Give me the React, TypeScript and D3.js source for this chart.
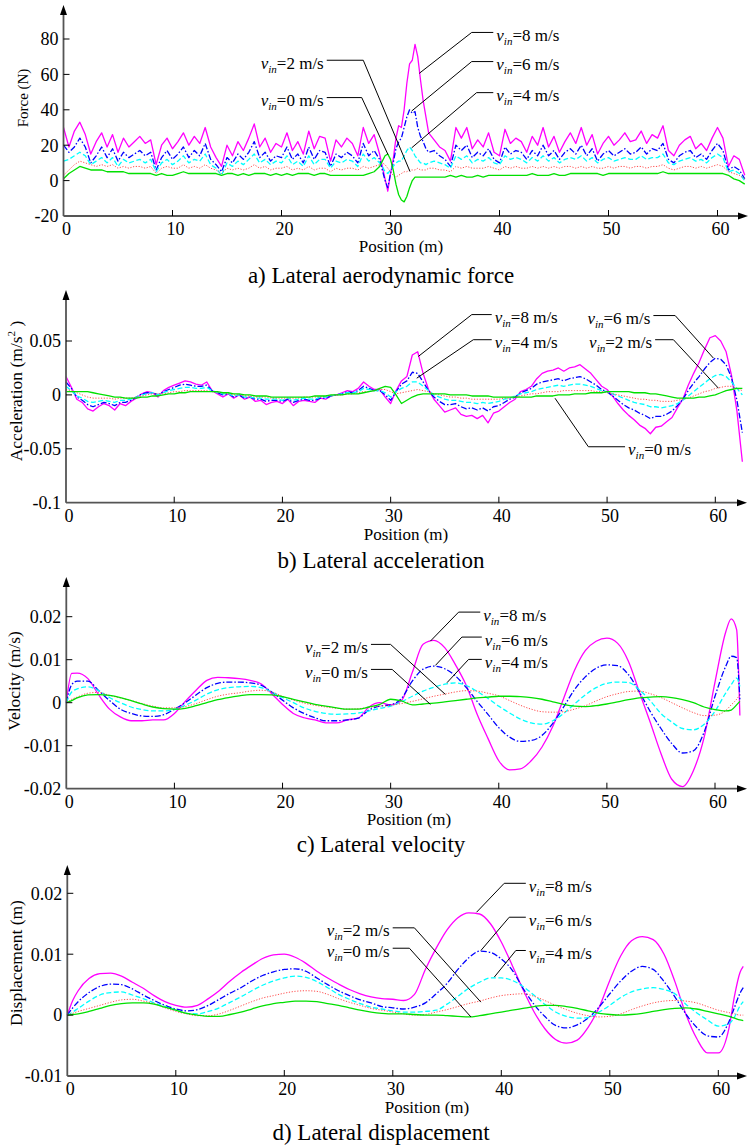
import React from "react";
import * as d3 from "d3";

// ---------------- DATA ----------------
const speeds = ["8", "6", "4", "2", "0"];

// Panel a: lateral aerodynamic force (N)
const posA = [0,0.5,1,1.5,2,2.5,3,3.5,4,4.5,5,5.5,6,6.5,7,7.5,8,8.5,9,9.5,10,10.5,11,11.5,12,12.5,13,13.5,14,14.5,15,15.5,16,16.5,17,17.5,18,18.5,19,19.5,20,20.5,21,21.5,22,22.5,23,23.5,24,24.5,25,25.5,26,26.5,27,27.5,28,28.5,29,
  29.25,29.5,29.75,30,30.25,30.5,30.75,31,31.25,31.5,31.75,32,32.25,32.5,32.75,33,33.25,33.5,
  34,34.5,35,35.5,36,36.5,37,37.5,38,38.5,39,39.5,40,40.5,41,41.5,42,42.5,43,43.5,44,44.5,45,45.5,46,46.5,47,47.5,48,48.5,49,49.5,50,50.5,51,51.5,52,52.5,53,53.5,54,54.5,55,55.5,56,56.5,57,57.5,58,58.5,59,59.5,60,60.5,61,61.5,62,62.5];
const forceV8 = [30,19,28,33,26,15,22,27,19,26, 16,24,19,22,25,21,23,9,20,24, 18,22,27,20,25,21,30,19,13,8, 20,14,22,17,24,32,19,24,16,21, 19,27,17,22,15,28,18,25,24,11, 23,19,24,21,14,30,21,26,15,
  8,1,-6,4,12,24,31,30,40,55,66,68,77,70,57,45,36,27,
  23,19,17,11,30,24,30,18,23,19, 27,16,14,29,21,24,22,16,25,20, 30,19,25,16,22,27,21,30,20,26, 15,21,25,20,23,27,22,23,28,21, 26,24,31,17,14,20,23,25,18,21, 17,24,30,24,8,14,12,3];
const forceV6 = [20,16,19,24,19,10,14,19,13,18, 11,16,13,15,17,14,16,6,13,17, 12,15,19,13,17,14,21,12,9,5, 13,10,15,12,16,22,13,16,11,14, 13,19,12,15,10,19,12,17,16,8, 15,13,16,14,10,21,14,17,12,
  6,0,-4,4,10,18,22,24,30,36,40,38,39,30,25,22,18,16,
  17,14,12,8,20,17,20,13,16,14, 18,12,10,19,15,17,16,12,17,14, 20,14,17,12,16,18,15,20,14,18, 11,15,17,14,16,18,15,16,19,15, 18,17,21,12,10,14,16,17,13,15, 12,17,21,17,6,8,6,1];
const forceV4 = [11,12,14,16,14,9,11,13,10,13, 8,12,10,11,12,10,12,5,10,12, 9,11,14,10,12,11,15,9,7,3, 10,8,11,9,12,15,10,12,9,11, 10,14,9,11,8,14,9,12,12,7, 11,10,12,11,8,15,11,13,10,
  8,5,4,6,8,10,11,11,14,17,19,17,14,12,10,10,9,10,
  11,10,9,7,14,12,14,10,12,11, 13,10,9,14,12,13,12,10,13,11, 14,11,13,10,12,13,12,14,11,13, 10,12,13,11,12,13,12,12,14,12, 13,13,15,10,9,11,12,13,11,12, 10,13,15,13,5,6,4,0];
const forceV2 = [3,6,9,11,10,9,8,9,8,9, 7,8,7,8,8,7,8,4,7,8, 7,7,9,7,8,7,9,7,6,4, 7,6,7,6,7,9,7,8,6,7, 7,8,6,7,6,8,6,7,7,5, 7,6,7,7,6,8,7,8,9,
  10,9,7,5,3,2,3,4,5,5,6,6,6,7,6,6,6,7,
  7,6,6,5,8,7,8,7,7,7, 8,7,6,8,7,8,7,7,8,7, 8,7,8,7,8,8,7,8,7,8, 7,7,8,7,8,8,7,8,8,7, 8,8,9,7,6,7,8,8,7,8, 7,8,9,8,5,4,3,1];
const forceV0 = [1,4,6,8,7,6,6,6,5,5, 5,5,4,4,4,4,4,3,4,3, 3,4,5,4,4,4,4,4,4,3, 4,4,3,4,3,4,4,4,3,4, 3,4,3,4,4,4,3,4,4,3, 3,3,3,3,3,3,4,5,8,
  11,14,15,12,6,-2,-8,-11,-12,-9,-4,0,2,2,2,2,2,2,
  2,2,2,3,2,3,2,2,3,2, 3,3,3,3,3,3,3,3,4,3, 3,3,4,3,3,4,4,4,4,4, 4,3,4,4,4,4,4,4,4,4, 4,4,5,4,4,4,4,4,4,4, 4,4,4,4,3,1,0,-2];

// Panel b: lateral acceleration (m/s^2)
const posB = [0,0.5,1,1.5,2,2.5,3,3.5,4,4.5,5,5.5,6,6.5,7,7.5,8,8.5,9,9.5,10,10.5,11,11.5,12,12.5,13,13.5,14,14.5,15,15.5,16,16.5,17,17.5,18,18.5,19,19.5,20,20.5,21,21.5,22,22.5,23,23.5,24,24.5,25,25.5,26,26.5,27,27.5,28,28.5,29,29.5,30,30.5,31,31.5,32,32.5,33,33.5,34,34.5,35,35.5,36,36.5,37,37.5,38,38.5,39,39.5,40,40.5,41,41.5,42,42.5,43,43.5,44,44.5,45,45.5,46,46.5,47,47.5,48,48.5,49,49.5,50,50.5,51,51.5,52,52.5,53,53.5,54,54.5,55,55.5,56,56.5,57,57.5,58,58.5,59,59.5,60,60.5,61,61.5,62,62.5];
const accV8 = [0.017,0.007,-0.004,-0.007,-0.013,-0.015,-0.011,-0.008,-0.010,-0.014, -0.008,-0.010,-0.006,-0.003,0.001,0.003,0.002,-0.002,0.004,0.007, 0.009,0.011,0.013,0.012,0.010,0.009,0.012,0.004,0.001,-0.002, 0.001,-0.003,0.000,-0.004,-0.002,-0.006,-0.005,-0.009,-0.007,-0.006, -0.008,-0.004,-0.010,-0.006,-0.005,-0.006,-0.007,-0.003,-0.004,-0.001, 0.000,0.002,0.004,0.003,0.006,0.012,0.008,0.005,0.005,-0.002, -0.008,0.004,0.013,0.017,0.037,0.040,0.020,0.005,-0.004,-0.010, -0.016,-0.014,-0.012,-0.018,-0.020,-0.019,-0.022,-0.019,-0.026,-0.017, -0.015,-0.011,-0.007,-0.004,0.003,0.005,0.008,0.015,0.020,0.022, 0.023,0.025,0.022,0.025,0.026,0.028,0.024,0.020,0.014,0.008, 0.005,-0.001,-0.008,-0.014,-0.019,-0.023,-0.028,-0.031,-0.036,-0.030, -0.029,-0.025,-0.021,-0.012,-0.004,0.009,0.020,0.030,0.042,0.053, 0.055,0.050,0.040,0.018,-0.015,-0.062];
const accV6 = [0.012,0.006,-0.002,-0.005,-0.009,-0.011,-0.009,-0.007,-0.008,-0.010, -0.007,-0.007,-0.005,-0.002,0.001,0.002,0.002,0.000,0.003,0.005, 0.007,0.009,0.010,0.009,0.008,0.008,0.009,0.004,0.002,0.000, 0.001,-0.002,0.000,-0.003,-0.002,-0.004,-0.004,-0.006,-0.005,-0.005, -0.006,-0.004,-0.007,-0.005,-0.004,-0.005,-0.005,-0.003,-0.003,-0.001, 0.000,0.001,0.003,0.002,0.004,0.008,0.006,0.004,0.004,0.000, -0.005,0.003,0.010,0.013,0.021,0.020,0.012,0.004,-0.002,-0.006, -0.009,-0.009,-0.008,-0.011,-0.013,-0.012,-0.014,-0.012,-0.015,-0.011, -0.010,-0.007,-0.004,-0.002,0.002,0.004,0.006,0.010,0.012,0.013, 0.014,0.015,0.013,0.015,0.016,0.017,0.015,0.012,0.009,0.005, 0.003,-0.001,-0.005,-0.009,-0.012,-0.014,-0.017,-0.019,-0.022,-0.020, -0.020,-0.018,-0.015,-0.010,-0.004,0.004,0.011,0.017,0.024,0.030, 0.034,0.033,0.028,0.016,-0.005,-0.035];
const accV4 = [0.008,0.004,-0.001,-0.003,-0.006,-0.007,-0.006,-0.005,-0.006,-0.007, -0.005,-0.005,-0.004,-0.002,0.000,0.001,0.002,0.000,0.002,0.004, 0.005,0.006,0.007,0.007,0.006,0.006,0.007,0.004,0.002,0.001, 0.001,-0.001,0.000,-0.002,-0.002,-0.003,-0.003,-0.004,-0.004,-0.004, -0.005,-0.003,-0.005,-0.004,-0.003,-0.004,-0.004,-0.002,-0.002,-0.001, 0.000,0.001,0.002,0.002,0.003,0.006,0.005,0.004,0.004,0.002, -0.002,0.003,0.006,0.008,0.012,0.012,0.008,0.004,0.000,-0.002, -0.004,-0.005,-0.005,-0.006,-0.007,-0.007,-0.008,-0.007,-0.008,-0.007, -0.006,-0.004,-0.003,-0.001,0.001,0.002,0.003,0.005,0.006,0.007, 0.008,0.009,0.008,0.009,0.010,0.010,0.009,0.008,0.006,0.004, 0.003,0.001,-0.001,-0.003,-0.005,-0.007,-0.008,-0.009,-0.011,-0.011, -0.012,-0.011,-0.010,-0.008,-0.005,-0.001,0.003,0.007,0.011,0.015, 0.018,0.019,0.017,0.012,0.006,0.000];
const accV2 = [0.005,0.004,0.002,0.000,-0.002,-0.003,-0.003,-0.003,-0.003,-0.004, -0.003,-0.003,-0.003,-0.002,-0.001,0.000,0.001,0.001,0.001,0.002, 0.003,0.003,0.004,0.004,0.004,0.004,0.004,0.003,0.002,0.002, 0.001,0.000,0.000,-0.001,-0.001,-0.002,-0.002,-0.002,-0.003,-0.003, -0.003,-0.003,-0.003,-0.003,-0.002,-0.002,-0.002,-0.002,-0.001,-0.001, 0.000,0.000,0.001,0.001,0.002,0.003,0.003,0.004,0.005,0.005, 0.003,0.001,0.002,0.003,0.004,0.005,0.004,0.003,0.001,0.000, -0.001,-0.002,-0.002,-0.003,-0.003,-0.004,-0.004,-0.004,-0.004,-0.004, -0.004,-0.003,-0.003,-0.002,-0.001,0.000,0.001,0.001,0.002,0.003, 0.003,0.003,0.004,0.004,0.004,0.004,0.004,0.004,0.003,0.003, 0.002,0.001,0.000,-0.001,-0.002,-0.003,-0.004,-0.004,-0.005,-0.005, -0.006,-0.006,-0.006,-0.005,-0.004,-0.003,-0.001,0.001,0.003,0.004, 0.006,0.007,0.008,0.008,0.006,0.004];
const accV0 = [0.003,0.003,0.003,0.003,0.003,0.002,0.001,0.000,-0.001,-0.002, -0.002,-0.003,-0.003,-0.003,-0.002,-0.002,-0.001,-0.001,0.000,0.001, 0.001,0.002,0.002,0.003,0.003,0.003,0.003,0.003,0.003,0.002, 0.002,0.001,0.001,0.000,0.000,-0.001,-0.001,-0.001,-0.002,-0.002, -0.002,-0.002,-0.002,-0.002,-0.002,-0.002,-0.001,-0.001,-0.001,0.000, 0.000,0.000,0.001,0.001,0.001,0.002,0.003,0.004,0.006,0.008, 0.007,0.000,-0.008,-0.005,-0.002,0.000,0.001,0.001,0.001,0.001, 0.001,0.000,0.000,0.000,0.000,-0.001,-0.001,-0.001,-0.001,-0.002, -0.002,-0.002,-0.002,-0.002,-0.002,-0.002,-0.002,-0.001,-0.001,-0.001, -0.001,0.000,0.000,0.000,0.001,0.001,0.001,0.002,0.002,0.002, 0.003,0.003,0.003,0.003,0.003,0.002,0.002,0.002,0.001,0.001, 0.000,-0.001,-0.002,-0.003,-0.003,-0.003,-0.003,-0.002,-0.002,-0.001, 0.000,0.002,0.004,0.005,0.006,0.006];

// Panels c and d share positions
const posCD = [0,0.5,1,2,3,4,5,6,7,8,9,10,11,12,13,14,15,16,17,18,19,20,21,22,23,24,25,26,27,28,29,30,31,32,33,34,35,36,37,38,39,40,41,42,43,44,45,46,47,48,49,50,51,52,53,54,55,56,57,58,59,60,61,61.5,62,62.3];

// Panel c: lateral velocity (m/s)
const velV8 = [0,0.0068,0.0069,0.0056,0.0018,-0.0015,-0.0033,-0.0042,-0.0042,-0.0040,-0.0040,-0.0025, 0.0003,0.0029,0.0052,0.0059,0.0058,0.0056,0.0052,0.0044,0.0021,-0.0004, -0.0025,-0.0035,-0.0040,-0.0047,-0.0047,-0.0040,-0.0036,-0.0010,0.0000,-0.0005, 0.0005,0.0070,0.0136,0.0145,0.0128,0.0088,0.0040,-0.0027,-0.0083,-0.0135, -0.0156,-0.0154,-0.0135,-0.0103,-0.0055,0.0010,0.0075,0.0121,0.0143,0.0150, 0.0138,0.0096,0.0025,-0.0045,-0.0118,-0.0178,-0.0195,-0.0158,-0.0080,0.0048, 0.0165,0.0195,0.0170,-0.0030];
const velV6 = [0,0.0042,0.0050,0.0050,0.0028,0.0005,-0.0015,-0.0025,-0.0031,-0.0032,-0.0028,-0.0015, 0.0000,0.0018,0.0035,0.0045,0.0048,0.0048,0.0046,0.0041,0.0025,0.0006, -0.0012,-0.0025,-0.0035,-0.0042,-0.0042,-0.0040,-0.0036,-0.0017,-0.0008,-0.0005, 0.0010,0.0050,0.0078,0.0085,0.0079,0.0062,0.0035,0.0003,-0.0027,-0.0058, -0.0080,-0.0090,-0.0088,-0.0076,-0.0048,-0.0010,0.0030,0.0060,0.0080,0.0088, 0.0086,0.0065,0.0025,-0.0020,-0.0060,-0.0095,-0.0117,-0.0112,-0.0068,0.0015, 0.0085,0.0108,0.0105,0.0008];
const velV4 = [0,0.0025,0.0032,0.0037,0.0028,0.0012,0.0000,-0.0010,-0.0016,-0.0019,-0.0019,-0.0016, -0.0006,0.0006,0.0020,0.0030,0.0035,0.0037,0.0038,0.0035,0.0025,0.0012, 0.0000,-0.0012,-0.0020,-0.0025,-0.0027,-0.0026,-0.0024,-0.0019,-0.0013,-0.0008, 0.0002,0.0015,0.0027,0.0036,0.0043,0.0046,0.0040,0.0026,0.0010,-0.0008, -0.0024,-0.0038,-0.0047,-0.0050,-0.0042,-0.0025,-0.0003,0.0018,0.0035,0.0045, 0.0048,0.0047,0.0030,0.0005,-0.0025,-0.0045,-0.0060,-0.0063,-0.0050,-0.0020, 0.0023,0.0042,0.0057,0.0038];
const velV2 = [0,0.0008,0.0013,0.0022,0.0024,0.0017,0.0011,0.0005,-0.0002,-0.0008,-0.0012,-0.0012, -0.0009,-0.0002,0.0007,0.0015,0.0020,0.0023,0.0027,0.0029,0.0025,0.0015, 0.0006,-0.0001,-0.0006,-0.0010,-0.0013,-0.0015,-0.0014,-0.0011,-0.0008,-0.0006, -0.0002,0.0003,0.0009,0.0015,0.0020,0.0025,0.0028,0.0027,0.0022,0.0016, 0.0005,-0.0006,-0.0015,-0.0021,-0.0022,-0.0021,-0.0015,-0.0007,0.0004,0.0014, 0.0021,0.0026,0.0027,0.0021,0.0012,0.0000,-0.0012,-0.0023,-0.0030,-0.0029, -0.0018,-0.0005,0.0008,0.0019];
const velV0 = [0,0.0005,0.0011,0.0018,0.0019,0.0017,0.0012,0.0005,-0.0003,-0.0010,-0.0014,-0.0015, -0.0013,-0.0007,0.0000,0.0007,0.0012,0.0016,0.0019,0.0019,0.0018,0.0014, 0.0008,0.0002,-0.0004,-0.0008,-0.0012,-0.0015,-0.0015,-0.0010,-0.0004,0.0008, 0.0004,-0.0005,-0.0003,-0.0001,0.0002,0.0005,0.0008,0.0011,0.0013,0.0015, 0.0015,0.0014,0.0012,0.0008,0.0002,-0.0004,-0.0008,-0.0009,-0.0007,-0.0003, 0.0002,0.0007,0.0011,0.0013,0.0014,0.0012,0.0007,0.0000,-0.0010,-0.0016, -0.0019,-0.0017,-0.0005,0.0003];

// Panel d: lateral displacement (m)
const dispV8 = [0,0.0024,0.0040,0.0060,0.0068,0.0069,0.0064,0.0054,0.0044,0.0032,0.0022,0.0016, 0.0013,0.0016,0.0027,0.0040,0.0056,0.0070,0.0082,0.0093,0.0099,0.0100, 0.0095,0.0085,0.0072,0.0061,0.0051,0.0042,0.0035,0.0030,0.0027,0.0026, 0.0024,0.0034,0.0075,0.0110,0.0140,0.0160,0.0168,0.0166,0.0150,0.0120, 0.0082,0.0042,0.0006,-0.0022,-0.0040,-0.0046,-0.0041,-0.0020,0.0012,0.0057, 0.0097,0.0122,0.0129,0.0124,0.0100,0.0055,0.0002,-0.0038,-0.0062,-0.0062, -0.0020,0.0032,0.0070,0.0080];
const dispV6 = [0,0.0012,0.0022,0.0037,0.0047,0.0051,0.0050,0.0043,0.0033,0.0024,0.0016,0.0010, 0.0007,0.0009,0.0016,0.0026,0.0036,0.0045,0.0056,0.0065,0.0071,0.0075, 0.0076,0.0072,0.0061,0.0050,0.0040,0.0032,0.0025,0.0020,0.0014,0.0012, 0.0010,0.0013,0.0020,0.0035,0.0052,0.0075,0.0094,0.0105,0.0103,0.0092, 0.0074,0.0044,0.0018,-0.0002,-0.0017,-0.0021,-0.0016,-0.0005,0.0013,0.0035, 0.0056,0.0072,0.0080,0.0075,0.0055,0.0030,0.0002,-0.0020,-0.0034,-0.0036, -0.0010,0.0013,0.0036,0.0045];
const dispV4 = [0,0.0005,0.0011,0.0023,0.0033,0.0037,0.0038,0.0033,0.0027,0.0020,0.0014,0.0008, 0.0003,0.0002,0.0006,0.0012,0.0021,0.0030,0.0040,0.0049,0.0056,0.0061, 0.0064,0.0062,0.0055,0.0045,0.0034,0.0026,0.0019,0.0013,0.0010,0.0007, 0.0005,0.0005,0.0006,0.0008,0.0018,0.0031,0.0044,0.0054,0.0061,0.0061, 0.0057,0.0047,0.0033,0.0018,0.0005,-0.0002,-0.0005,-0.0004,0.0005,0.0016, 0.0029,0.0038,0.0043,0.0045,0.0042,0.0035,0.0018,0.0004,-0.0008,-0.0018, -0.0014,-0.0003,0.0015,0.0022];
const dispV2 = [0,0.0003,0.0006,0.0011,0.0016,0.0021,0.0025,0.0026,0.0023,0.0019,0.0012,0.0006, 0.0002,-0.0001,-0.0001,0.0002,0.0008,0.0015,0.0022,0.0028,0.0032,0.0036, 0.0039,0.0040,0.0039,0.0034,0.0027,0.0021,0.0016,0.0011,0.0008,0.0005, 0.0002,0.0000,0.0001,0.0005,0.0009,0.0014,0.0019,0.0023,0.0028,0.0032, 0.0034,0.0035,0.0031,0.0024,0.0016,0.0009,0.0003,-0.0001,-0.0003,-0.0002, 0.0002,0.0009,0.0015,0.0020,0.0023,0.0024,0.0023,0.0020,0.0014,0.0008, 0.0004,0.0002,0.0000,0.0000];
const dispV0 = [0,0.0001,0.0002,0.0006,0.0011,0.0016,0.0019,0.0020,0.0020,0.0018,0.0013,0.0008, 0.0003,0.0000,-0.0002,-0.0002,0.0001,0.0005,0.0010,0.0015,0.0019,0.0021, 0.0023,0.0023,0.0022,0.0019,0.0016,0.0012,0.0008,0.0005,0.0003,0.0002, 0.0002,0.0001,0.0000,0.0000,-0.0001,-0.0002,-0.0003,-0.0001,0.0002,0.0005, 0.0008,0.0011,0.0014,0.0016,0.0016,0.0014,0.0011,0.0007,0.0003,0.0001, 0.0000,0.0001,0.0003,0.0006,0.0009,0.0011,0.0012,0.0010,0.0006,0.0002, -0.0002,-0.0005,-0.0008,-0.0009];

const xTicks = [0, 10, 20, 30, 40, 50, 60];
const forceTicks = [-20, 0, 20, 40, 60, 80];
const accTicks = [-0.1, -0.05, 0, 0.05];
const velTicks = [-0.02, -0.01, 0, 0.01, 0.02];
const dispTicks = [-0.01, 0, 0.01, 0.02];

// ---------------- STYLES / LAYOUT ----------------
const FONT = '"Liberation Serif", "Times New Roman", Times, serif';
const seriesStyle = [
  { color: "#ff00ff", dash: null, width: 1.3 },
  { color: "#0000ff", dash: "6,2,1.5,2", width: 1.3 },
  { color: "#00ffff", dash: "5,2.5", width: 1.3 },
  { color: "#ff4d4d", dash: "1.2,1.6", width: 1 },
  { color: "#00e000", dash: null, width: 1.3 },
];

type Ann = { s: string; h1: number; h2: number; hy: number; tx: number; ty: number; side: "left" | "right" };

const panels = [
  {
    pos: posA, series: [forceV8, forceV6, forceV4, forceV2, forceV0], ticks: forceTicks,
    x0: 63.5, x60: 717.5, yLo: -20, yHi: 80, pyLo: 216, pyHi: 39, arrowTop: 5, arrowRight: 748,
    smooth: false, yLabel: "Force (N)", yLabelSize: 15, yLabelX: 28, yLabelY: 98,
    title: "a) Lateral aerodynamic force", titleY: 283, posX: 401, posY: 252,
    anns: [
      { s: "8", h1: 37.45, h2: 39.43, hy: 83.7, tx: 32.64, ty: 60.6, side: "right" },
      { s: "6", h1: 37.45, h2: 39.43, hy: 67.25, tx: 31.94, ty: 39.3, side: "right" },
      { s: "4", h1: 37.9, h2: 39.43, hy: 49.7, tx: 31.94, ty: 18.5, side: "right" },
      { s: "2", h1: 24.15, h2: 27.5, hy: 68, tx: 31.79, ty: 5.1, side: "left" },
      { s: "0", h1: 24.15, h2: 27.36, hy: 46.9, tx: 29.77, ty: 14.7, side: "left" },
    ] as Ann[],
  },
  {
    pos: posB, series: [accV8, accV6, accV4, accV2, accV0], ticks: accTicks,
    x0: 66, x60: 715.3, yLo: -0.1, yHi: 0.05, pyLo: 502.7, pyHi: 341, arrowTop: 290, arrowRight: 747,
    smooth: false, yLabel: "Acceleration (m/s", yLabelSup: true, yLabelSize: 17.5, yLabelX: 22, yLabelY: 391,
    title: "b) Lateral acceleration", titleY: 568, posX: 406, posY: 540,
    anns: [
      { s: "8", h1: 37.5, h2: 39.34, hy: 0.0745, tx: 32.56, ty: 0.0357, side: "right" },
      { s: "4", h1: 37.64, h2: 39.34, hy: 0.0512, tx: 32.41, ty: 0.0155, side: "right" },
      { s: "6", h1: 54.28, h2: 56.29, hy: 0.0736, tx: 59.82, ty: 0.0342, side: "left" },
      { s: "2", h1: 54.44, h2: 56.13, hy: 0.0512, tx: 60.29, ty: 0.0062, side: "left" },
      { s: "0", h1: 48.27, h2: 51.66, hy: -0.0481, tx: 45.19, ty: -0.0031, side: "right" },
    ] as Ann[],
  },
  {
    pos: posCD, series: [velV8, velV6, velV4, velV2, velV0], ticks: velTicks,
    x0: 66.3, x60: 715, yLo: -0.02, yHi: 0.02, pyLo: 788.7, pyHi: 616.7, arrowTop: 577, arrowRight: 747,
    smooth: true, yLabel: "Velocity (m/s)", yLabelSize: 17.5, yLabelX: 20, yLabelY: 681,
    title: "c) Lateral velocity", titleY: 852, posX: 409, posY: 825,
    anns: [
      { s: "8", h1: 36.29, h2: 38.29, hy: 0.02107, tx: 33.68, ty: 0.01433, side: "right" },
      { s: "6", h1: 36.59, h2: 38.43, hy: 0.01526, tx: 34.14, ty: 0.00867, side: "right" },
      { s: "4", h1: 37.21, h2: 38.43, hy: 0.01007, tx: 35.21, ty: 0.00465, side: "right" },
      { s: "2", h1: 28.18, h2: 29.99, hy: 0.01356, tx: 35.06, ty: 0.00193, side: "left" },
      { s: "0", h1: 28.18, h2: 30.14, hy: 0.00774, tx: 33.68, ty: -0.0004, side: "left" },
    ] as Ann[],
  },
  {
    pos: posCD, series: [dispV8, dispV6, dispV4, dispV2, dispV0], ticks: dispTicks,
    x0: 67.3, x60: 718.3, yLo: -0.01, yHi: 0.02, pyLo: 1076, pyHi: 893.3, arrowTop: 865, arrowRight: 747,
    smooth: true, yLabel: "Displacement (m)", yLabelSize: 17.5, yLabelX: 21.5, yLabelY: 963,
    title: "d) Lateral displacement", titleY: 1140, posX: 427, posY: 1113,
    anns: [
      { s: "8", h1: 40.27, h2: 42.26, hy: 0.02164, tx: 37.72, ty: 0.01689, side: "right" },
      { s: "6", h1: 40.73, h2: 42.26, hy: 0.01607, tx: 38.12, ty: 0.01061, side: "right" },
      { s: "4", h1: 41.34, h2: 42.26, hy: 0.01061, tx: 39.35, ty: 0.00623, side: "right" },
      { s: "2", h1: 29.99, h2: 31.99, hy: 0.01433, tx: 38.12, ty: 0.00213, side: "left" },
      { s: "0", h1: 29.99, h2: 31.53, hy: 0.01098, tx: 37.2, ty: -0.0003, side: "left" },
    ] as Ann[],
  },
];

function fmt(v: number) {
  return v === 0 ? "0" : String(v);
}

function Label({ x, y, s, anchor }: { x: number; y: number; s: string; anchor: string }) {
  return (
    <text x={x} y={y} fontSize={17} fontFamily={FONT} textAnchor={anchor} fill="#000"><tspan fontStyle="italic">v</tspan><tspan fontStyle="italic" fontSize={11} dy={4}>in</tspan><tspan dy={-4}>{"=" + s + " m/s"}</tspan></text>
  );
}

function Panel({ p }: { p: (typeof panels)[number] }) {
  const x = d3.scaleLinear().domain([0, 60]).range([p.x0, p.x60]);
  const y = d3.scaleLinear().domain([p.yLo, p.yHi]).range([p.pyLo, p.pyHi]);
  const ax = x(0);
  const ay = y(p.yLo);
  const line = d3
    .line<number>()
    .x((_, i) => x(p.pos[i]))
    .y((d) => y(d))
    .curve(p.smooth ? d3.curveMonotoneX : d3.curveLinear);
  const axisColor = "#555";
  return (
    <g>
      {/* series */}
      {p.series.map((vals, i) => {
        const n = Math.min(vals.length, p.pos.length);
        const st = seriesStyle[i];
        return (
          <path
            key={i}
            d={line(vals.slice(0, n)) || ""}
            fill="none"
            stroke={st.color}
            strokeWidth={st.width}
            strokeDasharray={st.dash || undefined}
            strokeLinejoin="round"
          />
        );
      })}
      {/* axes */}
      <line x1={ax} y1={ay} x2={ax} y2={p.arrowTop + 8} stroke={axisColor} strokeWidth={1.8} />
      <path d={`M${ax},${p.arrowTop} L${ax - 3.5},${p.arrowTop + 10} L${ax + 3.5},${p.arrowTop + 10} Z`} fill="#000" />
      <line x1={ax} y1={ay} x2={p.arrowRight - 8} y2={ay} stroke={axisColor} strokeWidth={1.8} />
      <path d={`M${p.arrowRight},${ay} L${p.arrowRight - 10},${ay - 3.5} L${p.arrowRight - 10},${ay + 3.5} Z`} fill="#000" />
      {/* x ticks */}
      {xTicks.map((t) => (
        <g key={"x" + t}>
          {t !== 0 && <line x1={x(t)} x2={x(t)} y1={ay} y2={ay - 6} stroke="#000" strokeWidth={1} />}
          <text x={x(t) + 3} y={ay + 19} fontSize={18} fontFamily={FONT} textAnchor="middle">{t}</text>
        </g>
      ))}
      {/* y ticks */}
      {p.ticks.map((t) => (
        <g key={"y" + t}>
          {t !== p.yLo && <line x1={ax} x2={ax + 6} y1={y(t)} y2={y(t)} stroke="#000" strokeWidth={1} />}
          <text x={ax - 5} y={y(t)} dy="0.35em" fontSize={18} fontFamily={FONT} textAnchor="end">{fmt(t)}</text>
        </g>
      ))}
      {/* axis labels */}
      <text x={p.posX} y={p.posY} fontSize={17} fontFamily={FONT} textAnchor="middle">Position (m)</text>
      <text transform={`translate(${p.yLabelX},${p.yLabelY}) rotate(-90)`} fontSize={p.yLabelSize} fontFamily={FONT} textAnchor="middle">
        {p.yLabelSup ? (<><tspan>{p.yLabel}</tspan><tspan fontSize={11} dy={-7}>2</tspan><tspan dy={7}>{" )"}</tspan></>) : p.yLabel}
      </text>
      <text x={381} y={p.titleY} fontSize={23} fontFamily={FONT} textAnchor="middle">{p.title}</text>
      {/* annotations */}
      {p.anns.map((a, i) => {
        const hy = y(a.hy);
        const ex = a.side === "right" ? x(a.h1) : x(a.h2);
        return (
          <g key={"a" + i}>
            <line x1={x(a.h1)} x2={x(a.h2)} y1={hy} y2={hy} stroke="#000" strokeWidth={1} />
            <line x1={ex} y1={hy} x2={x(a.tx)} y2={y(a.ty)} stroke="#000" strokeWidth={1} />
            {a.side === "right" ? (
              <Label x={x(a.h2) + 3} y={hy + 8.5} s={a.s} anchor="start" />
            ) : (
              <Label x={x(a.h1) - 3} y={hy + 8.5} s={a.s} anchor="end" />
            )}
          </g>
        );
      })}
    </g>
  );
}

export default function App() {
  return (
    <svg
      width={748}
      height={1147}
      viewBox="0 0 748 1147"
      style={{ position: "absolute", left: 0, top: 0, background: "#fff" }}
    >
      <rect x={0} y={0} width={748} height={1147} fill="#fff" />
      {panels.map((p, i) => (
        <Panel key={i} p={p} />
      ))}
    </svg>
  );
}
